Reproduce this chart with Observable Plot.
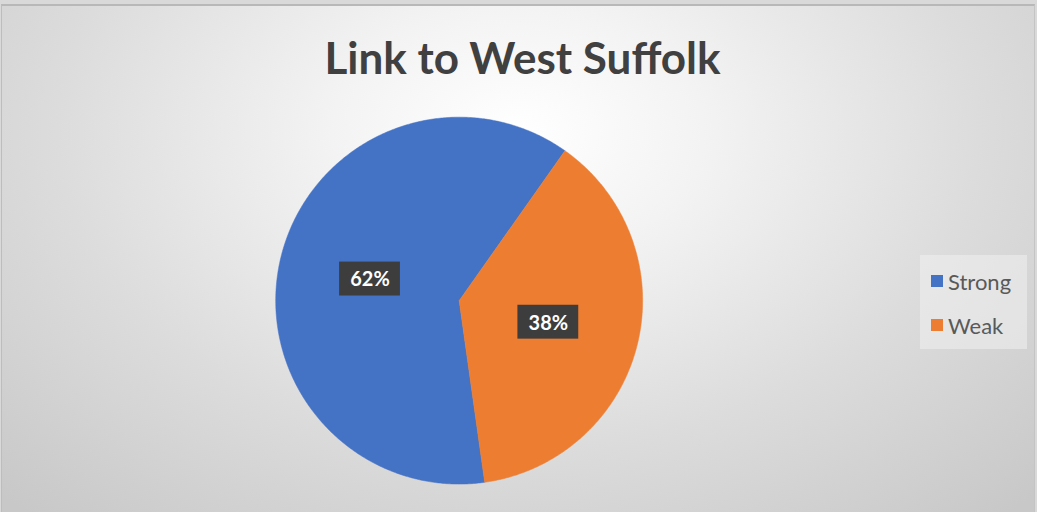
<!DOCTYPE html>
<html>
<head>
<meta charset="utf-8">
<script src="https://cdn.jsdelivr.net/npm/d3@7"></script>
<script src="https://cdn.jsdelivr.net/npm/@observablehq/plot@0.6"></script>
<style>
  html, body { margin: 0; padding: 0; background: #dcdcdc; }
  #outer { position: relative; width: 1037px; height: 512px; overflow: hidden; background: #d9d9d9; }
  #wrap {
    position: absolute; left: 1px; top: 4px; width: 1034px; height: 508px; overflow: hidden;
    box-sizing: border-box; border-left: 1px solid #bdbdbd; border-top: 2px solid #b8b8b8; border-right: 1px solid #c4c4c4;
    background: radial-gradient(ellipse 72% 100% at 50% 25%, #ffffff 0%, #f3f3f3 25%, #dcdcdc 62%, #c8c8c8 100%);
    font-family: Lato, "Open Sans", sans-serif;
  }
  #title {
    position: absolute; left: 0; width: 1037px; top: 23px; text-align: center;
    font-weight: bold; font-size: 44px; color: #404040; line-height: 56px;
    padding-left: 4px; box-sizing: border-box;
  }
  #chart { position: absolute; left: -2px; top: -4px; }
  #legend {
    position: absolute; left: 918px; top: 249px; width: 107px; height: 94px;
    background: rgba(240,240,240,0.55); box-sizing: border-box; padding: 13px 0 0 11px;
  }
  .item { display: flex; align-items: center; height: 26px; margin-bottom: 18px; font-size: 22px; color: #595959; }
  .sw { width: 12px; height: 12px; margin-right: 5px; }
</style>
</head>
<body>
<div id="outer">
<div id="wrap">
  <div id="chart"></div>
  <div id="title"></div>
  <div id="legend"></div>
</div>
</div>
<script>
const title = "Link to West Suffolk";
const categories = ["Strong", "Weak"];
const values = [62, 38];
const labels = ["62%", "38%"];
const colors = ["#4472C4", "#ED7D31"];
const firstSliceAngle = 172; // degrees, clockwise from 12 o'clock

document.getElementById("title").textContent = title;

const cx = 460, cy = 299, r = 184;
const total = d3.sum(values);
let acc = firstSliceAngle;
const slices = categories.map((name, i) => {
  const a0 = acc, a1 = acc + values[i] / total * 360;
  acc = a1;
  return {name, a0, a1, color: colors[i], label: labels[i]};
});

function polygon(s) {
  const pts = [{x: 0, y: 0}];
  const n = Math.max(2, Math.ceil(s.a1 - s.a0) * 2);
  for (let k = 0; k <= n; k++) {
    const a = (s.a0 + (s.a1 - s.a0) * k / n) * Math.PI / 180;
    pts.push({x: Math.sin(a), y: Math.cos(a)});
  }
  pts.push({x: 0, y: 0});
  return pts;
}

const labelData = slices.map(s => {
  const m = ((s.a0 + s.a1) / 2) * Math.PI / 180;
  return {x: 0.5 * Math.sin(m), y: 0.5 * Math.cos(m), label: s.label};
});

const plot = Plot.plot({
  width: 1037, height: 512, margin: 0,
  style: {background: "transparent", overflow: "visible"},
  x: {domain: [-1, 1], range: [cx - r, cx + r], axis: null},
  y: {domain: [-1, 1], range: [cy + r, cy - r], axis: null},
  marks: [
    ...slices.map(s => Plot.line(polygon(s), {x: "x", y: "y", fill: s.color, stroke: s.color, strokeWidth: 0.5, strokeLinejoin: "round"})),
    Plot.rect(labelData, {x1: "x", x2: "x", y1: "y", y2: "y", fill: "#3d3d3d", insetLeft: -30.5, insetRight: -30.5, insetTop: -17, insetBottom: -17, ariaLabel: "label-box"}),
    Plot.text(labelData, {x: "x", y: "y", text: "label", fill: "white", fontWeight: "bold", fontSize: 20, fontFamily: "Lato, 'Open Sans', sans-serif", dy: 1})
  ]
});
document.getElementById("chart").appendChild(plot);
d3.select(plot).selectAll('g[aria-label="label-box"] rect').style("filter", "drop-shadow(2px 2px 2px rgba(0,0,0,0.45))");

const legend = d3.select("#legend");
categories.forEach((c, i) => {
  const it = legend.append("div").attr("class", "item");
  it.append("div").attr("class", "sw").style("background", colors[i]);
  it.append("span").text(c);
});
</script>
</body>
</html>
